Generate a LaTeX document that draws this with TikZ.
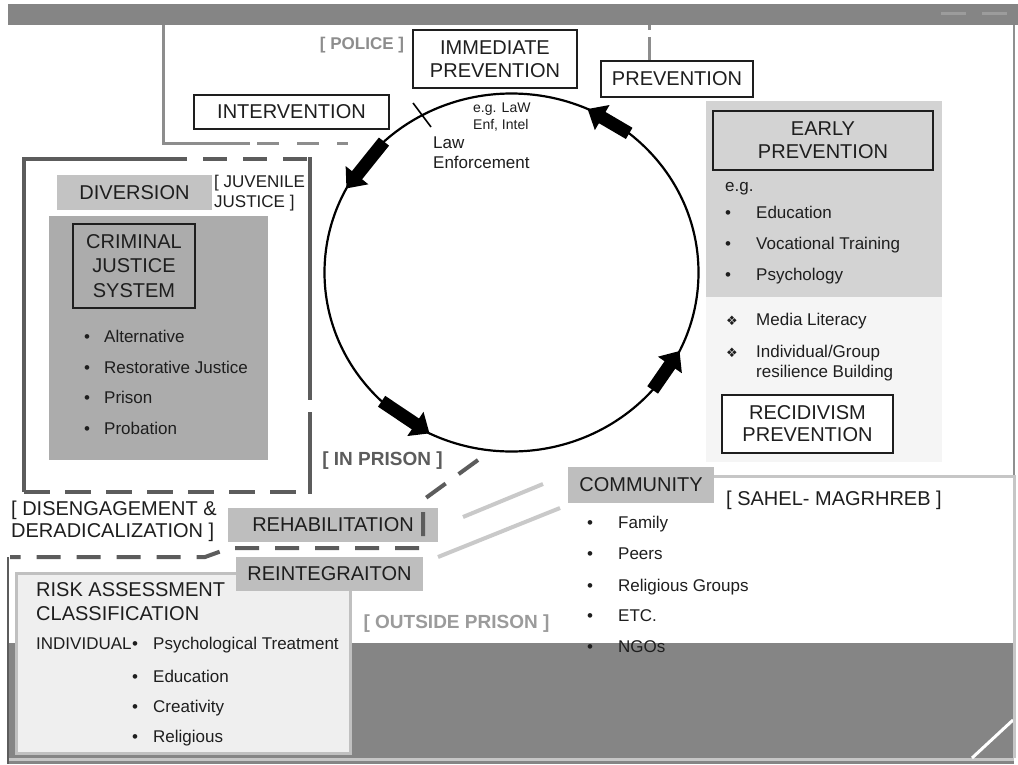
\documentclass[tikz,border=0pt]{standalone}
\usepackage{fontspec}
\setmainfont{Liberation Sans}
\newfontfamily\symfont{DejaVu Sans}
\usetikzlibrary{arrows.meta, calc}

\definecolor{ink}{HTML}{1E1E1E}
\definecolor{bargray}{HTML}{858585}
\definecolor{barmark}{HTML}{9C9C9C}
\definecolor{policegray}{HTML}{8D8D8D}
\definecolor{framegray}{HTML}{5C5C5C}
\definecolor{divgray}{HTML}{C3C3C3}
\definecolor{cjsgray}{HTML}{ACACAC}
\definecolor{tabgray}{HTML}{BEBEBE}
\definecolor{earlygray}{HTML}{D3D3D3}
\definecolor{palegray}{HTML}{F5F5F5}
\definecolor{riskfill}{HTML}{EFEFEF}
\definecolor{riskedge}{HTML}{C0C0C0}
\definecolor{commgray}{HTML}{C6C6C6}
\definecolor{linkgray}{HTML}{C9C9C9}
\definecolor{outgray}{HTML}{9B9B9B}
\definecolor{edgegray}{HTML}{8F8F8F}

\newcommand{\fs}[2]{\fontsize{#1}{#2}\selectfont}
\newcommand{\blt}[2]{\makebox[#1][l]{\textbullet}#2}
\newcommand{\dia}[2]{\makebox[#1][l]{\symfont\fs{13}{15}❖}#2}

\begin{document}
\begin{tikzpicture}[x=1pt, y=-1pt, every node/.style={text=ink},
  labelbox/.style={draw=ink, line width=1.2pt, fill=white, align=center, inner sep=0pt, font=\fs{20}{23}},
  tabbox/.style={fill=tabgray, align=center, inner sep=0pt, font=\fs{20}{23}},
  item/.style={anchor=west, inner sep=0pt, font=\fs{17}{20}, text height=12pt, text depth=3.5pt},
  note/.style={anchor=west, align=left, inner sep=0pt},
  tag/.style={inner sep=0pt, font=\bfseries\fs{19}{22}},
  policeline/.style={draw=policegray, line width=3pt},
  prisonline/.style={draw=framegray, line width=4pt},
  commline/.style={draw=commgray, line width=3pt},
  linkline/.style={draw=linkgray, line width=4pt},
  blockarrow/.style={line width=13pt, -{Triangle[length=17pt, width=28pt]}}]

  % Slide background
  \useasboundingbox (0,0) rectangle (1018,764);
  \fill[white] (0,0) rectangle (1018,764);
  \fill[bargray] (8,4) rectangle (1018,25);
  \draw[barmark, line width=3pt] (941,13) -- (966,13) (982,13) -- (1007,13);
  \fill[bargray] (8,643) rectangle (1014,764);
  \draw[edgegray, line width=2pt] (1014,25) -- (1014,476);
  \draw[commline] (8,759) -- (1014,759);
  \draw[white, line width=3pt] (1013,720) -- (972,758);

  % Police frame
  \draw[policeline] (163,25) -- (163,143) -- (250,143);
  \draw[policeline, dash pattern=on 22pt off 18pt] (257,143) -- (348,143);
  \draw[policeline, dash pattern=on 5pt off 7pt on 30pt off 10pt] (649,25) -- (649,61);

  % Criminal justice frame
  \draw[prisonline] (187,159) -- (24,159) -- (24,492);
  \draw[prisonline, dash pattern=on 24pt off 16pt] (203,159) -- (310,159);
  \draw[prisonline] (310,157) -- (310,400) (310,412) -- (310,494);
  \draw[prisonline, dash pattern=on 26pt off 15pt] (24,492) -- (310,492);

  % Areas
  \fill[cjsgray] (49,216) rectangle (268,460);
  \fill[earlygray] (706,101) rectangle (942,297);
  \fill[palegray] (706,297) rectangle (942,462);

  % Top boxes
  \node[labelbox, minimum width=164, minimum height=58] (immediate) at (495,59) {IMMEDIATE\\PREVENTION};
  \node[labelbox, minimum width=152, minimum height=36] (prevention) at (677,79) {PREVENTION};
  \node[labelbox, minimum width=195, minimum height=34] (intervention) at (291.5,112) {INTERVENTION};
  \node[tag, text=policegray, font=\bfseries\fs{17}{20}] (police) at (362,45) {[ POLICE ]};

  % Cycle
  \coordinate (cyc) at (511.5,272.5);
  \draw[line width=2.2pt] (cyc) ellipse [x radius=187, y radius=179];
  \draw[line width=1.6pt] (413,103) -- (431,127);
  \draw[blockarrow] ($(cyc)+(-133:187 and 179)$) -- ($(cyc)+(-152:187 and 179)$);
  \draw[blockarrow] ($(cyc)+(-226:187 and 179)$) -- ($(cyc)+(-244:187 and 179)$);
  \draw[blockarrow] ($(cyc)+(41:187 and 179)$) -- ($(cyc)+(26:187 and 179)$);
  \draw[blockarrow] ($(cyc)+(-51:187 and 179)$) -- ($(cyc)+(-66:187 and 179)$);
  \node[note, font=\fs{14}{17}] (lawexample) at (473,117.5) {e.g. LaW\\Enf, Intel};
  \node[note, font=\fs{17}{20}] (lawlabel) at (433,153) {Law\\Enforcement};

  % Criminal justice side
  \node[tabbox, fill=divgray, minimum width=155, minimum height=35] (diversion) at (134.5,192.5) {DIVERSION};
  \node[note, font=\fs{17}{20}] (juvenile) at (214,193) {[ JUVENILE\\JUSTICE ]};
  \node[labelbox, fill=none, font=\fs{20}{24.5}, minimum width=122, minimum height=84] (cjs) at (134,266) {CRIMINAL\\JUSTICE\\SYSTEM};
  \node[item] (alternative) at (84,338) {\blt{20pt}{Alternative}};
  \node[item] (restorative) at (84,369) {\blt{20pt}{Restorative Justice}};
  \node[item] (prisonitem) at (84,399) {\blt{20pt}{Prison}};
  \node[item] (probation) at (84,430) {\blt{20pt}{Probation}};

  % Prevention side
  \node[labelbox, fill=earlygray, minimum width=220, minimum height=59] (early) at (823,140.5) {EARLY\\PREVENTION};
  \node[item] (eg) at (725,187) {e.g.};
  \node[item] (education) at (725,214) {\blt{31pt}{Education}};
  \node[item] (vocational) at (725,245) {\blt{31pt}{Vocational Training}};
  \node[item] (psychology) at (725,276) {\blt{31pt}{Psychology}};
  \node[item] (media) at (726,321) {\dia{30pt}{Media Literacy}};
  \node[note, font=\fs{17}{20}] (resilience) at (726,363) {\dia{30pt}{Individual/Group}\\\hspace*{30pt}resilience Building};
  \node[labelbox, font=\fs{20}{22}, minimum width=171, minimum height=58] (recidivism) at (807.5,424) {RECIDIVISM\\PREVENTION};

  % Risk assessment
  \node[draw=riskedge, line width=3pt, fill=riskfill, inner sep=0pt, minimum width=334, minimum height=180] (risk) at (183,663) {};
  \node[note, font=\fs{20}{24}] (riskassess) at (36,602) {RISK ASSESSMENT\\CLASSIFICATION};
  \node[item] (individual) at (36,645) {INDIVIDUAL};
  \node[item] (psychological) at (132,645) {\blt{21pt}{Psychological Treatment}};
  \node[item] (schooling) at (132,678) {\blt{21pt}{Education}};
  \node[item] (creativity) at (132,708) {\blt{21pt}{Creativity}};
  \node[item] (religious) at (132,738) {\blt{21pt}{Religious}};

  % Community
  \draw[commline] (714,476) -- (1014,476) -- (1014,758);
  \node[tabbox, minimum width=146, minimum height=36] (community) at (641,485) {COMMUNITY};
  \node[anchor=west, inner sep=0pt, font=\fs{20}{23}] (sahel) at (726,500) {[ SAHEL- MAGRHREB ]};
  \node[item] (family) at (587,524) {\blt{31pt}{Family}};
  \node[item] (peers) at (587,555) {\blt{31pt}{Peers}};
  \node[item] (groups) at (587,587) {\blt{31pt}{Religious Groups}};
  \node[item] (etc) at (587,617) {\blt{31pt}{ETC.}};
  \node[item] (ngos) at (587,648) {\blt{31pt}{NGOs}};

  % Prison stages
  \node[tabbox, minimum width=210, minimum height=34] (rehab) at (333,525) {REHABILITATION};
  \node[tabbox, minimum width=187, minimum height=34] (reinteg) at (329.5,574) {REINTEGRAITON};
  \node[tag, text=framegray] (inprison) at (382.5,461) {[ IN PRISON ]};
  \node[tag, text=outgray] (outside) at (456.5,624) {[ OUTSIDE PRISON ]};
  \node[note, font=\fs{20}{22}] (disengage) at (11,521) {[ DISENGAGEMENT \&\\DERADICALIZATION ]};

  % In prison frame
  \draw[prisonline, dash pattern=on 24pt off 16pt] (478,460) -- (423,500) -- (423,548) -- (230,548) -- (205,557) -- (10,557);
  \draw[prisonline, line width=2.5pt] (8,557) -- (8,764);

  % Links to community
  \coordinate (rehablink) at (463,517);
  \coordinate (reinteglink) at (438,557);
  \coordinate (commtop) at (543,484);
  \coordinate (commlow) at (560,508);
  \draw[linkline] (rehablink) -- (commtop);
  \draw[linkline] (reinteglink) -- (commlow);
\end{tikzpicture}
\end{document}
